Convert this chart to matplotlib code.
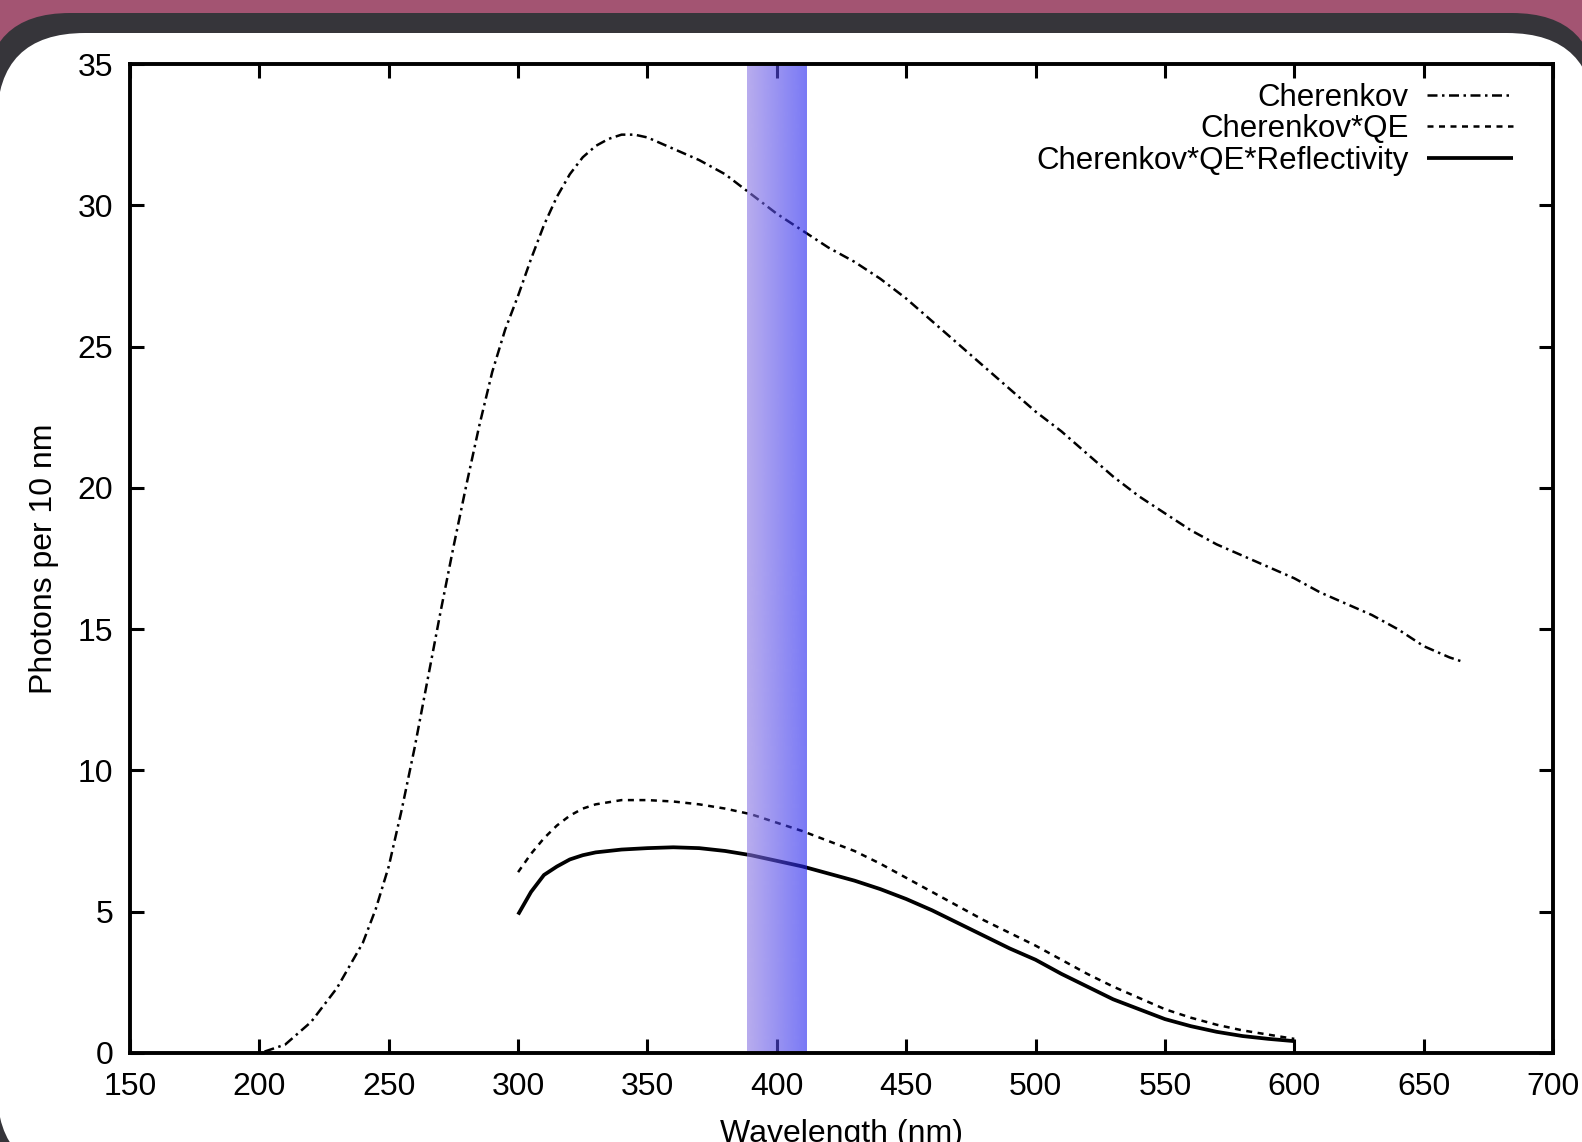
import matplotlib
matplotlib.use("Agg")
import matplotlib.pyplot as plt
from matplotlib.patches import FancyBboxPatch
import numpy as np

plt.rcParams.update({
    "font.family": ["Liberation Sans", "DejaVu Sans"],
    "font.size": 23,
})

# ── Data ──────────────────────────────────────────────────────────────────────
cher_nm = [202, 210, 220, 230, 240, 245, 250, 255, 260, 265, 270, 275, 280,
           285, 290, 295, 300, 305, 310, 315, 320, 325, 330, 335, 340, 345,
           350, 360, 370, 380, 390, 400, 410, 420, 430, 440, 450, 460, 470,
           480, 490, 500, 510, 520, 530, 540, 550, 560, 570, 580, 590, 600,
           610, 620, 630, 640, 650, 660, 665]
cher_val = [0.05, 0.3, 1.1, 2.3, 3.9, 5.1, 6.6, 8.6, 10.8, 13.2, 15.6, 17.9,
            20.1, 22.2, 24.1, 25.6, 26.8, 28.1, 29.3, 30.3, 31.1, 31.7, 32.1,
            32.35, 32.5, 32.5, 32.4, 32.0, 31.6, 31.1, 30.4, 29.7, 29.1, 28.5,
            28.0, 27.4, 26.7, 25.9, 25.1, 24.3, 23.5, 22.7, 22.0, 21.2, 20.4,
            19.7, 19.1, 18.5, 18.0, 17.6, 17.2, 16.8, 16.3, 15.9, 15.5, 15.0,
            14.4, 14.0, 13.85]

qe_nm = [300, 305, 310, 315, 320, 325, 330, 340, 350, 360, 370, 380, 390,
         400, 410, 420, 430, 440, 450, 460, 470, 480, 490, 500, 510, 520,
         530, 540, 550, 560, 570, 580, 590, 600]
qe_val = [6.4, 7.05, 7.6, 8.05, 8.4, 8.65, 8.8, 8.95, 8.95, 8.9, 8.8, 8.65,
          8.45, 8.15, 7.85, 7.5, 7.15, 6.7, 6.2, 5.7, 5.2, 4.7, 4.25, 3.8,
          3.3, 2.8, 2.35, 1.95, 1.55, 1.25, 1.0, 0.8, 0.65, 0.5]

refl_nm = [300, 305, 310, 315, 320, 325, 330, 340, 350, 360, 370, 380, 390,
           400, 410, 420, 430, 440, 450, 460, 470, 480, 490, 500, 510, 520,
           530, 540, 550, 560, 570, 580, 590, 600]
refl_val = [4.9, 5.7, 6.3, 6.6, 6.85, 7.0, 7.1, 7.2, 7.25, 7.28, 7.25, 7.15,
            7.0, 6.8, 6.6, 6.35, 6.1, 5.8, 5.45, 5.05, 4.6, 4.15, 3.7, 3.3,
            2.8, 2.35, 1.9, 1.55, 1.2, 0.95, 0.75, 0.6, 0.5, 0.42]

labels = ["Cherenkov", "Cherenkov*QE", "Cherenkov*QE*Reflectivity"]
band_nm = (388.5, 411.5)

# ── Figure + screenshot frame ─────────────────────────────────────────────────
W, H = 1582, 1142
fig = plt.figure(figsize=(W / 100, H / 100), dpi=100)
fig.patch.set_facecolor("#A35472")

bg = fig.add_axes([0, 0, 1, 1], zorder=-1)
bg.set_xlim(0, W)
bg.set_ylim(H, 0)
bg.axis("off")
bg.add_patch(FancyBboxPatch((-15, 13), W + 30, H + 100,
                            boxstyle="round,pad=0,rounding_size=85",
                            facecolor="#36353A", edgecolor="none"))
bg.add_patch(FancyBboxPatch((-3, 33), W + 16, 1176 - 33,
                            boxstyle="round,pad=0,rounding_size=88",
                            facecolor="white", edgecolor="none"))

# ── Main axes ─────────────────────────────────────────────────────────────────
ax = fig.add_axes([130 / W, 1 - 1053 / H, 1423 / W, 989 / H])
ax.set_facecolor("white")

l1, = ax.plot(cher_nm, cher_val, color="black", lw=1.8,
              linestyle=(0, (4, 1.8, 1, 1.8)))
l2, = ax.plot(qe_nm, qe_val, color="black", lw=1.8,
              linestyle=(0, (2.4, 2.2)))
l3, = ax.plot(refl_nm, refl_val, color="black", lw=2.7,
              solid_capstyle="butt")

# gradient band (semi-transparent, over the curves)
left = np.array([137, 117, 227]) / 255
right = np.array([33, 33, 240]) / 255
t = np.linspace(0, 1, 64)[None, :, None]
grad = left * (1 - t) + right * t
rgba = np.concatenate([grad, np.full((1, 64, 1), 0.6)], axis=2)
ax.imshow(rgba, extent=[band_nm[0], band_nm[1], 0, 35], aspect="auto",
          interpolation="bilinear", zorder=2.2)

ax.set_xlim(150, 700)
ax.set_ylim(0, 35)
ax.set_xticks(np.arange(150, 701, 50))
ax.set_yticks(np.arange(0, 36, 5))
ax.tick_params(direction="in", length=10, width=2.2, top=True, right=True,
               labelsize=23)
ax.tick_params(axis="y", pad=12)
ax.tick_params(axis="x", pad=14)
for s in ax.spines.values():
    s.set_linewidth(2.8)
    s.set_zorder(3)

ax.set_xlabel("Wavelength (nm)", fontsize=23)
ax.xaxis.set_label_coords(0.5, -0.067)
ax.set_ylabel("Photons per 10 nm", fontsize=23)
ax.yaxis.set_label_coords(-0.050, 0.5)

ax.legend([l1, l2, l3], labels, loc="upper right",
          bbox_to_anchor=(0.972, 0.981), frameon=False, markerfirst=False,
          fontsize=22.5, handlelength=2.75, handletextpad=0.6,
          labelspacing=0.05, borderpad=0, borderaxespad=0)

fig.savefig("out.png", dpi=100)
